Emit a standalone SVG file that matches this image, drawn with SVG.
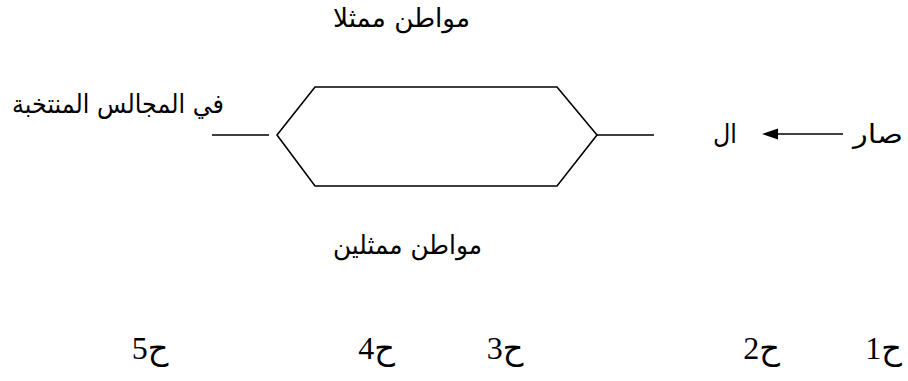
<svg xmlns="http://www.w3.org/2000/svg" width="908" height="381" viewBox="0 0 908 381">
<style>
.ar{font-family:"DejaVu Sans",sans-serif;font-size:26px;fill:#000;text-anchor:middle}
.lb{font-family:"Liberation Serif","DejaVu Sans",serif;font-size:32px;fill:#000;text-anchor:middle}
.ln{stroke:#000;stroke-width:1.6;fill:none}
</style>
<rect width="908" height="381" fill="#fff"/>
<g id="hexagon">
<polygon class="ln" points="277,135 315,87 557,87 597,135 557,186 315,186"/>
</g>
<g id="label-top"><text class="ar" x="401.5" y="27" direction="rtl" textLength="137" lengthAdjust="spacingAndGlyphs">مواطن ممثلا</text></g>
<g id="label-bottom"><text class="ar" x="407.5" y="254" direction="rtl" textLength="149" lengthAdjust="spacingAndGlyphs">مواطن ممثلين</text></g>
<g id="label-left"><text class="ar" x="118" y="113" direction="rtl" textLength="212" lengthAdjust="spacingAndGlyphs">في المجالس المنتخبة</text></g>
<g id="label-al"><text class="ar" x="725" y="143" direction="rtl" textLength="24" lengthAdjust="spacingAndGlyphs">ال</text></g>
<g id="label-sar"><text class="ar" x="878" y="143" direction="rtl" textLength="50" lengthAdjust="spacingAndGlyphs">صار</text></g>
<g id="h1"><text class="lb" x="883.5" y="359" direction="rtl">ح1</text></g>
<g id="h2"><text class="lb" x="761.5" y="359" direction="rtl">ح2</text></g>
<g id="h3"><text class="lb" x="505" y="359" direction="rtl">ح3</text></g>
<g id="h4"><text class="lb" x="376.5" y="359" direction="rtl">ح4</text></g>
<g id="h5"><text class="lb" x="150" y="359" direction="rtl">ح5</text></g>
<g id="connectors">
<line class="ln" x1="212" y1="135" x2="269" y2="135"/>
<line class="ln" x1="597" y1="135" x2="654" y2="135"/>
<line class="ln" x1="843" y1="134" x2="775" y2="134"/>
<polygon points="762,134 778,128.5 778,139.5" fill="#000"/>
</g>
</svg>
